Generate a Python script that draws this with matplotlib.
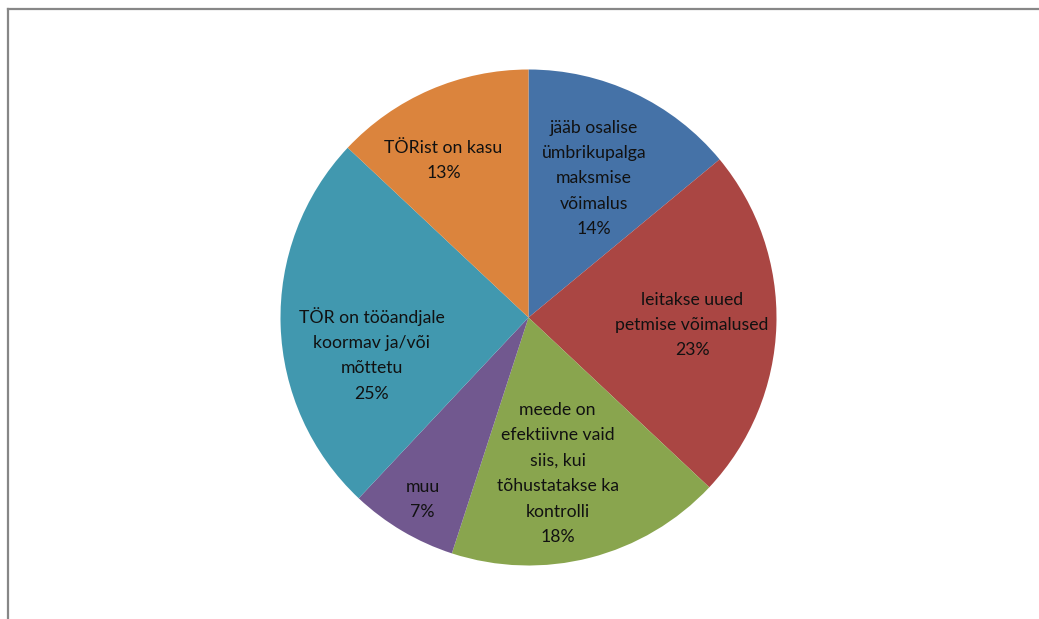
import matplotlib
matplotlib.use("Agg")
import matplotlib.pyplot as plt
import numpy as np
from matplotlib.lines import Line2D

labels = [
    "jääb osalise\nümbrikupalga\nmaksmise\nvõimalus",
    "leitakse uued\npetmise võimalused",
    "meede on\nefektiivne vaid\nsiis, kui\ntõhustatakse ka\nkontrolli",
    "muu",
    "TÖR on tööandjale\nkoormav ja/või\nmõttetu",
    "TÖRist on kasu",
]
values = [14, 23, 18, 7, 25, 13]
colors = ["#4572A7", "#AA4643", "#89A54E", "#71588F", "#4198AF", "#DB843D"]

# label placement style: (fraction of radius, angle adjustment in degrees)
label_frac = [0.62, 0.66, 0.64, 0.85, 0.65, 0.72]
label_adj = [0.0, 0.8, 3.8, -0.4, -11.4, -5.0]

W, H = 1039, 619
fig = plt.figure(figsize=(W / 100, H / 100), dpi=100)
ax = fig.add_axes([0, 0, 1, 1])

cx, cy, R = 528.5, H - 317.5, 248
wedges, _ = ax.pie(values, colors=colors, startangle=90, counterclock=False,
                   center=(cx, cy), radius=R, frame=True,
                   wedgeprops=dict(linewidth=0))
ax.set_xlim(0, W)
ax.set_ylim(0, H)
ax.set_aspect("equal")
ax.axis("off")

total = sum(values)
cum = 0
for lab, v, f, adj in zip(labels, values, label_frac, label_adj):
    mid = (cum + v / 2) / total * 360 + adj
    cum += v
    th = np.deg2rad(mid)
    x = cx + f * R * np.sin(th)
    y = cy + f * R * np.cos(th)
    ax.text(x, y, f"{lab}\n{v}%", ha="center", va="center", ma="center",
            fontsize=12.7, family=["Lato", "DejaVu Sans"], color="#111111",
            linespacing=1.72)

# outer chart frame
fig.add_artist(Line2D([8 / W, 8 / W], [0, 1 - 8.5 / H], transform=fig.transFigure,
                      color="#878787", linewidth=1.6))
fig.add_artist(Line2D([8 / W, 1], [1 - 8.5 / H, 1 - 8.5 / H], transform=fig.transFigure,
                      color="#878787", linewidth=1.6))

fig.savefig("out.png", dpi=100, facecolor="white")
